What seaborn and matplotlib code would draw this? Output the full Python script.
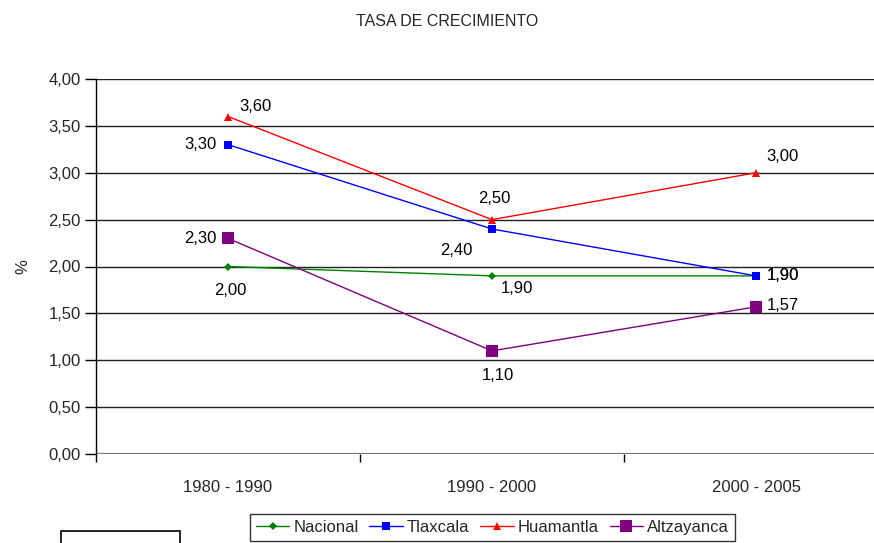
import matplotlib
matplotlib.use("Agg")
import matplotlib.pyplot as plt
import seaborn as sns
import pandas as pd
from matplotlib.patches import Rectangle

# Growth rates by period
periods = ["1980 - 1990", "1990 - 2000", "2000 - 2005"]
nacional = [2.00, 1.90, 1.90]
tlaxcala = [3.30, 2.40, 1.90]
huamantla = [3.60, 2.50, 3.00]
altzayanca = [2.30, 1.10, 1.57]
series_names = ["Nacional", "Tlaxcala", "Huamantla", "Altzayanca"]
y_ticks = [0.0, 0.5, 1.0, 1.5, 2.0, 2.5, 3.0, 3.5, 4.0]

series_values = [nacional, tlaxcala, huamantla, altzayanca]
df = pd.DataFrame({
    "periodo": periods * len(series_names),
    "serie": [n for n in series_names for _ in periods],
    "valor": [v for vals in series_values for v in vals],
})

sns.set_style("white")
plt.rcParams["font.family"] = ["Liberation Sans", "DejaVu Sans"]

colors = {"Nacional": "#008000", "Tlaxcala": "#0000FF",
          "Huamantla": "#FF0000", "Altzayanca": "#800080"}
markers = {"Nacional": "D", "Tlaxcala": "s", "Huamantla": "^", "Altzayanca": "s"}
msizes = {"Nacional": 4, "Tlaxcala": 5.5, "Huamantla": 6, "Altzayanca": 8}

fig = plt.figure(figsize=(8.74, 5.43), dpi=100)
ax = fig.add_axes([96 / 874, 1 - 454 / 543, 792 / 874, 375 / 543])

for name in series_names:
    sub = df[df["serie"] == name]
    sns.lineplot(data=sub, x="periodo", y="valor", ax=ax, sort=False,
                 color=colors[name], marker=markers[name],
                 markersize=msizes[name], markeredgewidth=0,
                 linewidth=1, label=name, legend=False)

ax.set_ylim(0, 4)
ax.set_xlim(-0.5, 2.5)
ax.set_yticks(y_ticks)
ax.set_yticklabels([f"{t:.2f}".replace(".", ",") for t in y_ticks], fontsize=12)
for t in y_ticks[1:]:
    ax.axhline(t, color="#222222", lw=1, zorder=0.5)
ax.axhline(0, color="#777777", lw=1.6, zorder=0.5)

# category boundaries as tick marks, labels at centres
ax.set_xticks([-0.5, 0.5, 1.5, 2.5])
ax.set_xticklabels([])
ax.set_xticks([0, 1, 2], minor=True)
ax.set_xticklabels(periods, minor=True, fontsize=12)
ax.tick_params(axis="x", which="major", direction="out", length=6, width=1, color="black", bottom=True)
ax.tick_params(axis="x", which="minor", length=0, pad=19)
ax.tick_params(axis="y", direction="out", length=8, width=1, color="black", left=True, pad=3)

for s in ["top", "right", "bottom"]:
    ax.spines[s].set_visible(False)
ax.spines["left"].set_color("black")
ax.spines["left"].set_linewidth(1)
ax.set_xlabel("")
ax.set_ylabel("%", fontsize=12, labelpad=13)

fig.suptitle("TASA DE CRECIMIENTO", x=447 / 874, y=1 - 21 / 543,
             va="center", ha="center", fontsize=11.5)

# value labels: (series, index, dx, dy, ha, va)
label_pos = [
    ("Nacional", 0, 2, -12, "center", "top"),
    ("Nacional", 1, 6, -4, "left", "top"),
    ("Nacional", 2, 8, 0, "left", "center"),
    ("Tlaxcala", 0, -8, 0, "right", "center"),
    ("Tlaxcala", 1, -14, -10, "right", "top"),
    ("Tlaxcala", 2, 8, 0, "left", "center"),
    ("Huamantla", 0, 8, 2, "left", "bottom"),
    ("Huamantla", 1, 2, 10, "center", "bottom"),
    ("Huamantla", 2, 19, 6, "center", "bottom"),
    ("Altzayanca", 0, -8, 0, "right", "center"),
    ("Altzayanca", 1, 4, -12, "center", "top"),
    ("Altzayanca", 2, 8, 1, "left", "center"),
]
for name, i, dx, dy, ha, va in label_pos:
    v = series_values[series_names.index(name)][i]
    ax.annotate(f"{v:.2f}".replace(".", ","), (i, v), xytext=(dx, dy),
                textcoords="offset points", ha=ha, va=va, fontsize=12, color="black")

handles, labels = ax.get_legend_handles_labels()
leg = fig.legend(handles, labels, loc="upper left", ncol=4,
                 bbox_to_anchor=(250 / 874, 1 - 514 / 543), fontsize=12,
                 frameon=True, fancybox=False, edgecolor="black",
                 handlelength=2.0, handletextpad=0.25, columnspacing=0.65,
                 borderpad=0.35, borderaxespad=0)
leg.get_frame().set_linewidth(1)

fig.add_artist(Rectangle((61 / 874, -0.05), 119 / 874, 0.05 + 12 / 543,
                         transform=fig.transFigure, fill=False,
                         edgecolor="black", lw=1.2))

fig.savefig("out.png", dpi=100)
